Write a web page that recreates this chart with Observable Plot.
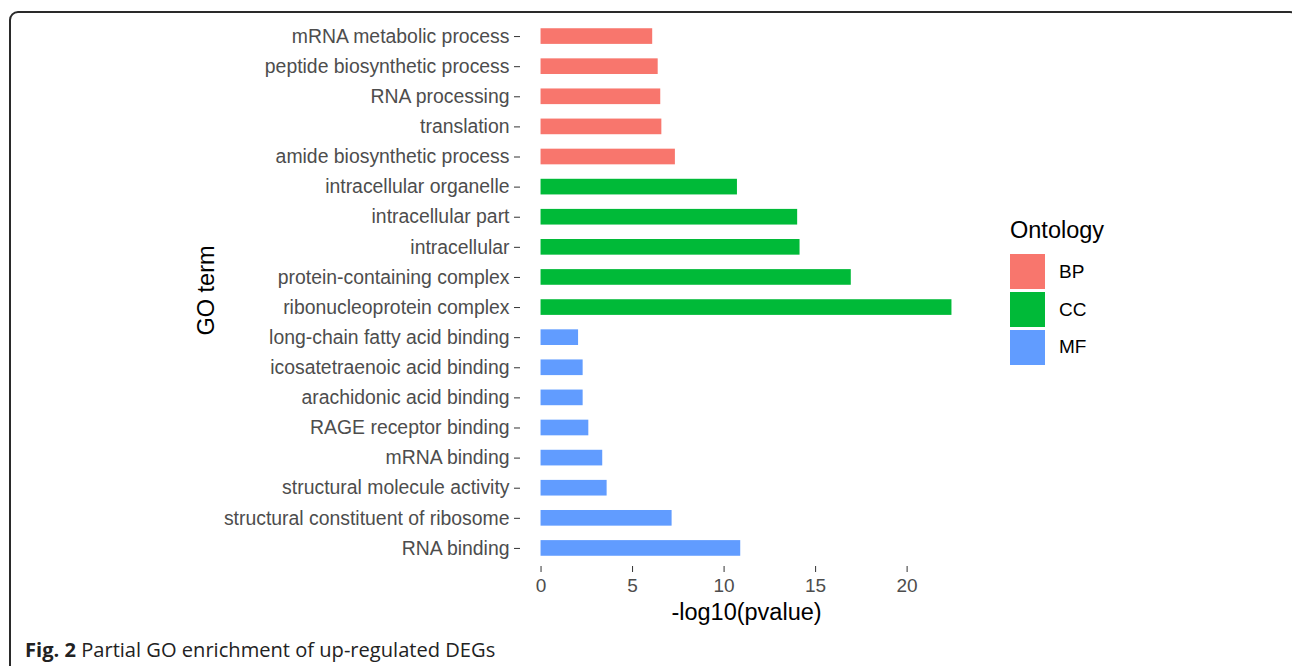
<!DOCTYPE html>
<html>
<head>
<meta charset="utf-8">
<script src="https://cdn.jsdelivr.net/npm/d3@7"></script>
<script src="https://cdn.jsdelivr.net/npm/@observablehq/plot@0.6"></script>
<style>
  html, body { margin: 0; padding: 0; background: #fff; overflow: hidden; }
  #wrap { position: relative; width: 1292px; height: 666px; }
  #frame { position: absolute; left: 9px; top: 11px; width: 1290px; height: 680px;
           border: 2px solid #2a2a2a; border-radius: 9px; box-sizing: border-box; pointer-events: none; }
  #chart svg { display: block; }
  #legend { position: absolute; left: 1010px; top: 215px; font-family: "Liberation Sans", Arial, sans-serif; color: #000; }
  #legend .title { font-size: 23.5px; line-height: 30px; height: 38px; }
  #legend .row { display: flex; align-items: center; height: 37.8px; }
  #legend .key { width: 35px; height: 35px; margin-right: 14px; }
  #legend .lab { font-size: 19px; }
  #caption { font-family: "Open Sans", sans-serif; font-size: 20.1px; line-height: 28px; height: 30px;
             padding-left: 25px; color: #222; }
  #caption b { font-weight: 700; }
</style>
</head>
<body>
<div id="wrap">
  <div id="chart"></div>
  <div id="caption"><b>Fig. 2</b> Partial GO enrichment of up-regulated DEGs</div>
  <div id="legend"></div>
  <div id="frame"></div>
</div>
<script>
const terms = [
  "mRNA metabolic process",
  "peptide biosynthetic process",
  "RNA processing",
  "translation",
  "amide biosynthetic process",
  "intracellular organelle",
  "intracellular part",
  "intracellular",
  "protein-containing complex",
  "ribonucleoprotein complex",
  "long-chain fatty acid binding",
  "icosatetraenoic acid binding",
  "arachidonic acid binding",
  "RAGE receptor binding",
  "mRNA binding",
  "structural molecule activity",
  "structural constituent of ribosome",
  "RNA binding"
];
const ontologies = ["BP","BP","BP","BP","BP","CC","CC","CC","CC","CC","MF","MF","MF","MF","MF","MF","MF","MF"];
const values = [6.10, 6.40, 6.54, 6.60, 7.34, 10.73, 14.02, 14.15, 16.95, 22.45, 2.05, 2.30, 2.30, 2.61, 3.37, 3.61, 7.16, 10.91];
const ontologyLevels = ["BP", "CC", "MF"];
const ontologyColors = ["#F8766D", "#00BA38", "#619CFF"];
const xTicks = [0, 5, 10, 15, 20];
const xTitle = "-log10(pvalue)";
const yTitle = "GO term";
const legendTitle = "Ontology";

const data = terms.map((t, i) => ({term: t, ontology: ontologies[i], value: values[i]}));
const vmax = d3.max(values);
const pad = vmax * 0.05;

const plot = Plot.plot({
  width: 1292,
  height: 636,
  marginLeft: 520,
  marginRight: 320,
  marginTop: 18,
  marginBottom: 70,
  style: {fontFamily: "'Liberation Sans', Arial, sans-serif", background: "transparent"},
  x: {domain: [-pad, vmax + pad], axis: null, label: null},
  y: {domain: terms, paddingInner: 0.48, paddingOuter: 0.34, round: false, axis: null, label: null},
  color: {domain: ontologyLevels, range: ontologyColors},
  marks: [
    Plot.barX(data, {x: "value", y: "term", fill: "ontology"}),
    Plot.axisY({tickSize: 6, tickPadding: 5, color: "#4D4D4D", stroke: "#333", fontSize: 19.4, label: null}),
    Plot.axisX({ticks: xTicks, tickSize: 6, tickPadding: 6, color: "#4D4D4D", stroke: "#333", fontSize: 19, tickFormat: d3.format("d"), label: null}),
    Plot.text([xTitle], {frameAnchor: "bottom", dy: 46, lineAnchor: "middle", fontSize: 23.5, fill: "#000"}),
    Plot.text([yTitle], {frameAnchor: "left", dx: -314, dy: -2, rotate: -90, textAnchor: "middle", lineAnchor: "middle", fontSize: 23.5, fill: "#000"})
  ]
});
document.getElementById("chart").appendChild(plot);

const legend = document.getElementById("legend");
const t = document.createElement("div");
t.className = "title";
t.textContent = legendTitle;
legend.appendChild(t);
ontologyLevels.forEach((lv, i) => {
  const row = document.createElement("div");
  row.className = "row";
  const k = document.createElement("div");
  k.className = "key";
  k.style.background = ontologyColors[i];
  const l = document.createElement("div");
  l.className = "lab";
  l.textContent = lv;
  row.appendChild(k);
  row.appendChild(l);
  legend.appendChild(row);
});
</script>
</body>
</html>
